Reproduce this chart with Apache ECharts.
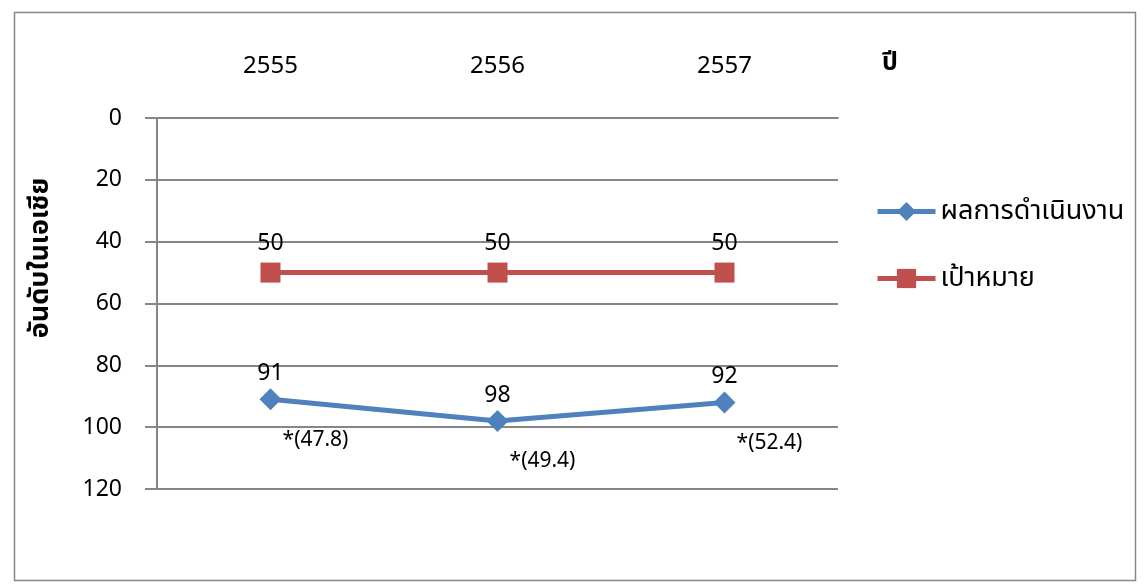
<!DOCTYPE html>
<html><head><meta charset="utf-8">
<script src="https://cdn.jsdelivr.net/npm/echarts@6/dist/echarts.min.js"></script>
<style>html,body{margin:0;padding:0;background:#fff}#c{width:1145px;height:585px}</style>
</head><body><div id="c"></div>
<script>
const categories = ['2555', '2556', '2557'];
const performance = [91, 98, 92];
const target = [50, 50, 50];
const notes = ['*(47.8)', '*(49.4)', '*(52.4)'];
const seriesNames = ['ผลการดำเนินงาน', 'เป้าหมาย'];
const yTicks = { min: 0, max: 120, interval: 20 };

const FONT = "'Noto Sans', 'Noto Sans Thai', 'Loma', 'Garuda', sans-serif";
const GRAY = '#868686';
const chart = echarts.init(document.getElementById('c'));
chart.setOption({
  backgroundColor: '#fff',
  textStyle: { fontFamily: FONT },
  animation: false,
  graphic: [
    { type: 'rect', left: 12, top: 10, shape: { width: 1121, height: 568 }, style: { fill: 'none', stroke: GRAY, lineWidth: 1.5 } },
    { type: 'text', left: 882, top: 50, style: { text: 'ปี', font: "bold 25px " + FONT, fill: '#000' } },
    { type: 'text', x: 40, y: 258, rotation: Math.PI / 2, style: { text: 'อันดับในเอเชีย', font: "bold 27px " + FONT, fill: '#000', align: 'center', verticalAlign: 'middle' } }
  ],
  legend: {
    orient: 'vertical', left: 870, top: 193, itemWidth: 58, itemHeight: 24, itemGap: 40,
    lineStyle: { width: 5 },
    textStyle: { fontSize: 27, color: '#000', fontFamily: FONT },
    data: seriesNames
  },
  grid: { left: 157, right: 307, top: 118, bottom: 96 },
  xAxis: {
    type: 'category', position: 'top', data: categories, boundaryGap: true,
    axisLine: { show: true, lineStyle: { color: GRAY, width: 2 } },
    axisTick: { show: false },
    axisLabel: { margin: 40, fontSize: 24, color: '#000', fontFamily: FONT }
  },
  yAxis: {
    type: 'value', inverse: true, min: yTicks.min, max: yTicks.max, interval: yTicks.interval,
    axisLine: { show: true, lineStyle: { color: GRAY, width: 2 } },
    axisTick: { show: true, inside: false, length: 12, lineStyle: { color: GRAY, width: 2 } },
    axisLabel: { margin: 35, fontSize: 23, color: '#000', fontFamily: FONT },
    splitLine: { show: true, lineStyle: { color: GRAY, width: 2 } }
  },
  series: [
    {
      name: seriesNames[0], type: 'line', data: performance,
      symbol: 'diamond', symbolSize: 22,
      lineStyle: { color: '#4F81BD', width: 5 }, itemStyle: { color: '#4F81BD' },
      label: { show: true, position: 'top', distance: 3, fontSize: 23, color: '#000', fontFamily: FONT },
      z: 3
    },
    {
      name: seriesNames[1], type: 'line', data: target,
      symbol: 'rect', symbolSize: 20,
      lineStyle: { color: '#C0504D', width: 5 }, itemStyle: { color: '#C0504D' },
      label: { show: true, position: 'top', distance: 8, fontSize: 23, color: '#000', fontFamily: FONT },
      z: 3
    },
    {
      name: 'notes', type: 'line', data: performance, symbol: 'circle', symbolSize: 2, showSymbol: true,
      lineStyle: { width: 0, color: 'transparent' }, itemStyle: { color: 'transparent', borderWidth: 0 },
      silent: true, legendHoverLink: false,
      label: { show: true, position: 'bottom', distance: 5, fontSize: 21, color: '#000', fontFamily: FONT,
        formatter: p => notes[p.dataIndex] },
      labelLayout: { dx: 45, dy: 24, hideOverlap: false },
      z: 2
    }
  ]
});
</script></body></html>
